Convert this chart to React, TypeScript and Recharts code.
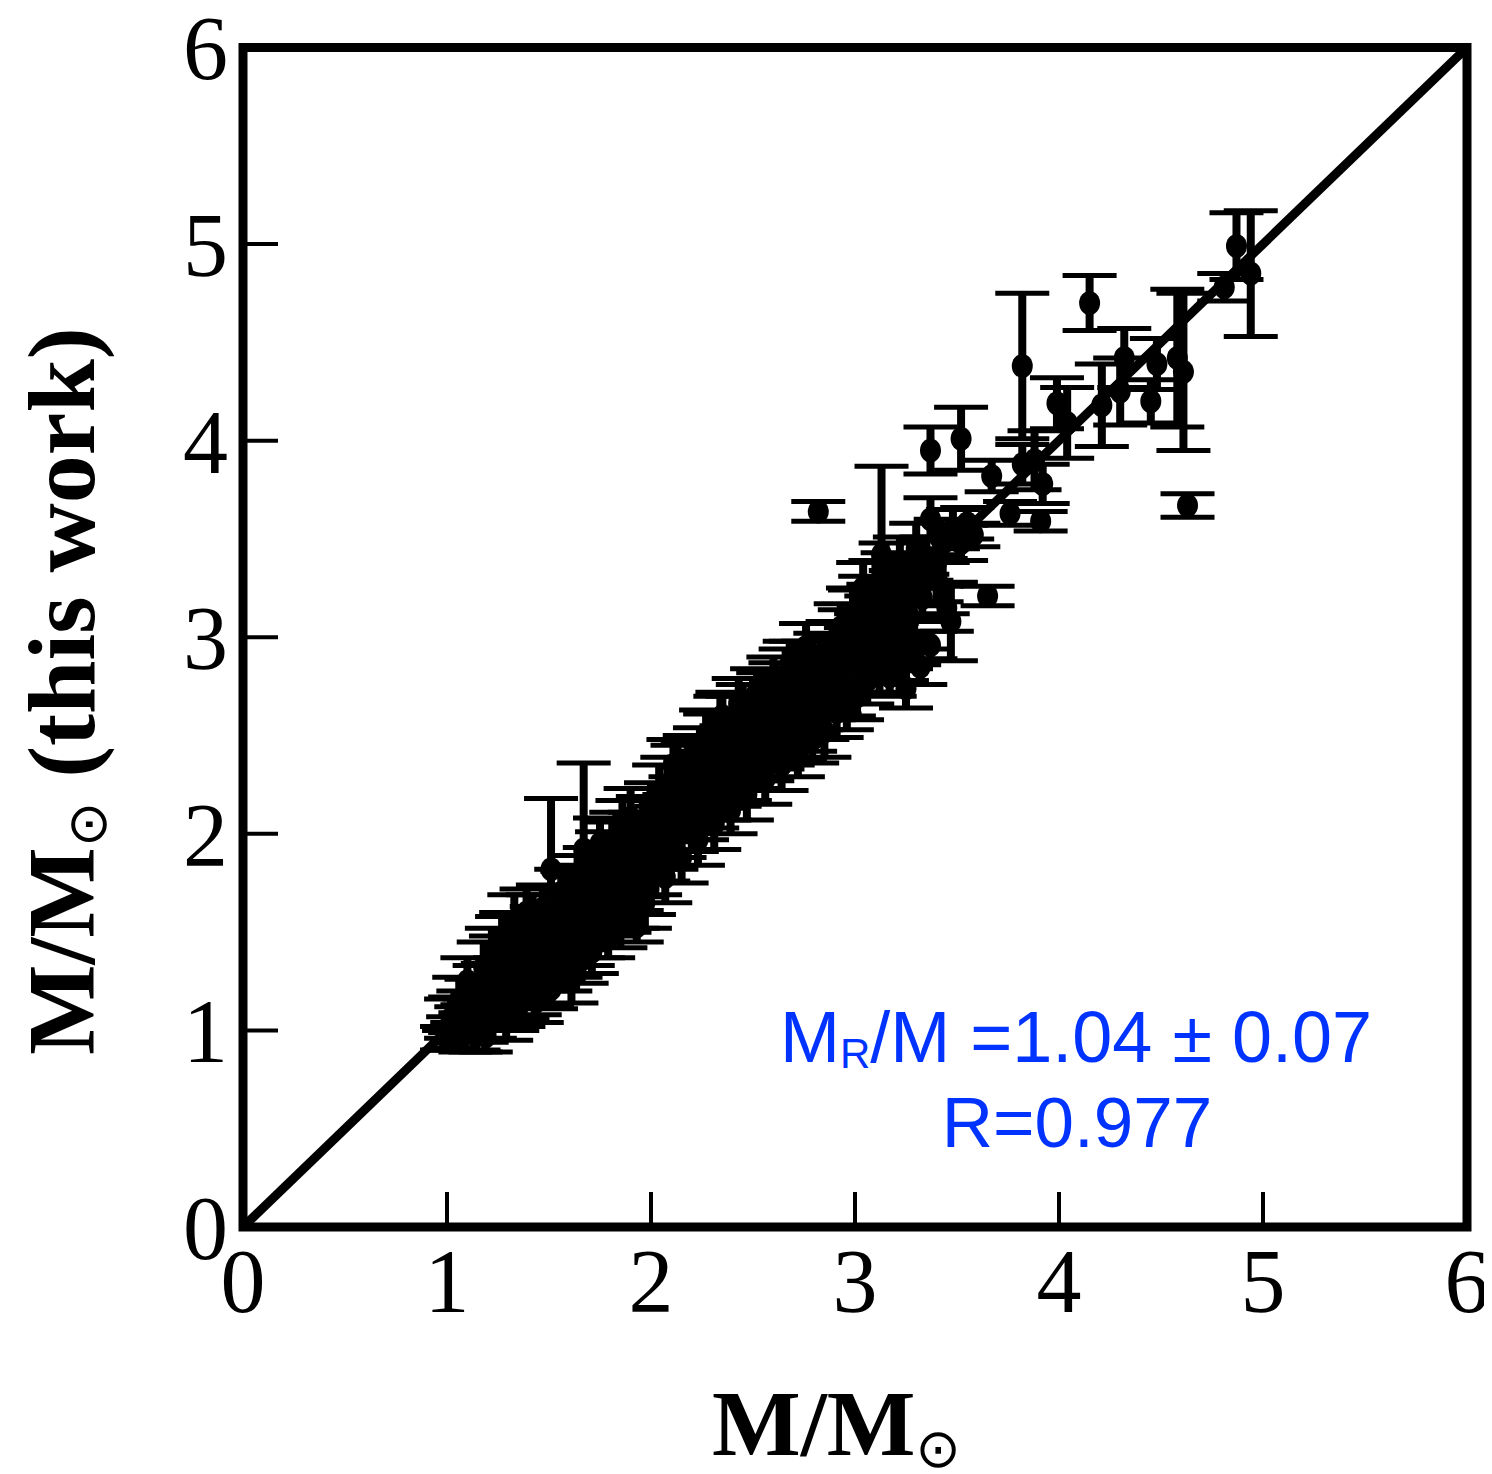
import React from "react";
import {
  ScatterChart,
  Scatter,
  XAxis,
  YAxis,
  ErrorBar,
  ReferenceLine,
  ReferenceArea,
} from "recharts";

// [M/Msun (literature), M/Msun (this work), error]
type Row = [number, number, number];

const xTicks = [0, 1, 2, 3, 4, 5, 6];
const yTicks = [0, 1, 2, 3, 4, 5, 6];

const lowGroup: Row[] = [
  [1.0, 0.96, 0.06], [1.01, 0.95, 0.05], [1.03, 0.99, 0.08], [1.04, 1.08, 0.09],
  [1.05, 0.97, 0.07], [1.07, 1.04, 0.08], [1.08, 1.12, 0.08], [1.09, 0.99, 0.1],
  [1.11, 1.07, 0.09], [1.12, 1.17, 0.09], [1.13, 1.01, 0.11], [1.15, 1.1, 0.08],
  [1.16, 1.22, 0.11], [1.17, 1.04, 0.1], [1.19, 1.14, 0.09], [1.2, 1.24, 0.1],
  [1.21, 1.08, 0.12], [1.22, 1.4, 0.12], [1.23, 1.19, 0.09], [1.25, 1.12, 0.11],
  [1.26, 1.27, 0.1], [1.27, 1.45, 0.13], [1.28, 1.15, 0.1], [1.3, 1.33, 0.11],
  [1.31, 1.21, 0.09], [1.32, 1.1, 0.1], [1.33, 1.55, 0.14], [1.34, 1.28, 0.1],
  [1.36, 1.38, 0.12], [1.37, 1.17, 0.11], [1.38, 1.47, 0.12], [1.4, 1.25, 0.1],
  [1.41, 1.34, 0.11], [1.42, 1.56, 0.13], [1.43, 1.2, 0.12], [1.45, 1.42, 0.11],
  [1.46, 1.3, 0.1], [1.47, 1.62, 0.12], [1.48, 1.37, 0.11], [1.49, 1.25, 0.13],
  [1.5, 1.5, 0.12],
];

const midLowGroup: Row[] = [
  [1.52, 1.33, 0.11], [1.53, 1.45, 0.12], [1.54, 1.6, 0.13], [1.55, 1.38, 0.1],
  [1.57, 1.52, 0.12], [1.58, 1.32, 0.12], [1.59, 1.68, 0.13], [1.6, 1.47, 0.11],
  [1.62, 1.58, 0.12], [1.63, 1.4, 0.13], [1.64, 1.75, 0.14], [1.65, 1.52, 0.11],
  [1.68, 1.63, 0.12], [1.69, 1.45, 0.12], [1.7, 1.8, 0.13], [1.72, 1.57, 0.11],
  [1.73, 1.7, 0.12], [1.74, 1.5, 0.13], [1.76, 1.87, 0.14], [1.77, 1.62, 0.12],
  [1.78, 1.75, 0.11], [1.8, 1.55, 0.07], [1.81, 1.93, 0.13], [1.82, 1.68, 0.12],
  [1.84, 1.82, 0.12], [1.85, 1.56, 0.14], [1.86, 2.02, 0.15], [1.88, 1.74, 0.12],
  [1.89, 1.88, 0.11], [1.9, 2.08, 0.15], [1.91, 1.65, 0.13], [1.93, 1.53, 0.08],
  [1.94, 1.8, 0.12], [1.96, 2.05, 0.14], [1.98, 1.88, 0.12], [1.99, 1.72, 0.13],
];

const midGroup: Row[] = [
  [2.0, 2.12, 0.14], [2.01, 1.94, 0.12], [2.02, 1.82, 0.13], [2.04, 2.2, 0.15],
  [2.05, 2.02, 0.12], [2.06, 1.88, 0.12], [2.08, 2.25, 0.14], [2.09, 2.08, 0.12],
  [2.1, 1.95, 0.13], [2.12, 2.16, 0.13], [2.13, 2.3, 0.15], [2.14, 2.0, 0.12],
  [2.16, 2.22, 0.12], [2.17, 2.1, 0.13], [2.18, 2.34, 0.13], [2.2, 2.05, 0.14],
  [2.21, 2.27, 0.12], [2.22, 2.15, 0.12], [2.24, 2.4, 0.14], [2.25, 2.1, 0.13],
  [2.26, 2.3, 0.12], [2.28, 2.22, 0.13], [2.29, 2.47, 0.14], [2.3, 2.15, 0.12],
  [2.32, 2.35, 0.13], [2.33, 2.25, 0.12], [2.34, 2.55, 0.15], [2.36, 2.2, 0.13],
  [2.37, 2.42, 0.13], [2.38, 2.32, 0.12], [2.4, 2.58, 0.12], [2.41, 2.28, 0.14],
  [2.42, 2.45, 0.12], [2.44, 2.37, 0.12], [2.45, 2.62, 0.14], [2.46, 2.3, 0.13],
  [2.48, 2.5, 0.12], [2.49, 2.4, 0.13],
];

const upperMidGroup: Row[] = [
  [2.5, 2.65, 0.14], [2.51, 2.35, 0.12], [2.53, 2.55, 0.13], [2.54, 2.45, 0.12],
  [2.55, 2.7, 0.12], [2.57, 2.4, 0.13], [2.58, 2.6, 0.12], [2.59, 2.5, 0.14],
  [2.61, 2.74, 0.13], [2.62, 2.45, 0.12], [2.63, 2.62, 0.13], [2.65, 2.54, 0.12],
  [2.66, 2.8, 0.14], [2.67, 2.48, 0.13], [2.69, 2.68, 0.12], [2.7, 2.58, 0.13],
  [2.71, 2.85, 0.13], [2.73, 2.52, 0.14], [2.74, 2.72, 0.12], [2.75, 2.62, 0.12],
  [2.77, 2.86, 0.12], [2.78, 2.55, 0.13], [2.8, 2.76, 0.12], [2.81, 2.66, 0.13],
  [2.83, 2.9, 0.12], [2.84, 2.6, 0.12], [2.86, 2.82, 0.13], [2.87, 2.7, 0.12],
  [2.89, 2.96, 0.12], [2.9, 2.75, 0.14], [2.92, 2.88, 0.12], [2.94, 2.8, 0.13],
  [2.95, 3.02, 0.12], [2.97, 2.72, 0.12], [2.98, 2.93, 0.12],
];

const highGroup: Row[] = [
  [3.0, 3.1, 0.14], [3.02, 2.85, 0.13], [3.03, 3.0, 0.12], [3.05, 3.18, 0.13],
  [3.07, 2.92, 0.12], [3.08, 3.08, 0.13], [3.1, 3.25, 0.14], [3.11, 2.98, 0.12],
  [3.14, 3.15, 0.12], [3.16, 3.3, 0.13], [3.17, 2.8, 0.1], [3.19, 3.05, 0.12],
  [3.2, 3.22, 0.12], [3.22, 3.38, 0.13], [3.23, 2.9, 0.12], [3.25, 2.74, 0.1],
  [3.26, 3.12, 0.13], [3.28, 3.3, 0.12], [3.3, 3.45, 0.13], [3.32, 2.85, 0.09],
  [3.33, 3.2, 0.12], [3.35, 3.4, 0.11], [3.37, 2.96, 0.07], [3.37, 3.6, 0.11],
  [3.4, 3.3, 0.12], [3.42, 3.5, 0.1], [3.45, 3.15, 0.12], [3.47, 3.08, 0.2],
  [3.48, 3.55, 0.1], [3.52, 3.48, 0.09], [3.55, 3.58, 0.08], [3.58, 3.52, 0.06],
];

const fillGroup: Row[] = [
  [1.02, 1.06, 0.1], [1.06, 1.15, 0.12], [1.1, 1.25, 0.12], [1.14, 0.98, 0.09],
  [1.18, 1.32, 0.13], [1.19, 0.97, 0.08], [1.24, 1.36, 0.12], [1.29, 1.05, 0.1],
  [1.29, 1.48, 0.12], [1.35, 1.12, 0.1], [1.39, 1.6, 0.12], [1.44, 1.15, 0.11],
  [1.44, 1.5, 0.13], [1.51, 1.21, 0.1], [1.56, 1.7, 0.12], [1.61, 1.26, 0.12],
  [1.66, 1.36, 0.12], [1.67, 1.72, 0.12], [1.71, 1.4, 0.11], [1.75, 1.95, 0.13],
  [1.79, 1.47, 0.1], [1.83, 1.98, 0.13], [1.87, 1.62, 0.12], [1.92, 1.98, 0.13],
  [1.97, 1.65, 0.13], [2.03, 2.08, 0.15], [2.07, 1.78, 0.13], [2.11, 2.35, 0.13],
  [2.15, 1.88, 0.13], [2.19, 2.38, 0.12], [2.23, 1.97, 0.13], [2.27, 2.5, 0.13],
  [2.31, 2.05, 0.13], [2.35, 2.6, 0.12], [2.39, 2.12, 0.12], [2.43, 2.66, 0.13],
  [2.47, 2.2, 0.13], [2.52, 2.72, 0.12], [2.56, 2.28, 0.13], [2.6, 2.78, 0.12],
  [2.64, 2.35, 0.13], [2.68, 2.86, 0.12], [2.72, 2.42, 0.13], [2.76, 2.95, 0.12],
  [2.79, 2.48, 0.12], [2.82, 2.78, 0.14], [2.85, 2.52, 0.13], [2.88, 2.88, 0.13],
  [2.91, 2.62, 0.13], [2.93, 3.05, 0.12], [2.96, 2.65, 0.12], [2.99, 3.12, 0.13],
  [3.01, 2.7, 0.12], [3.04, 3.25, 0.13], [3.06, 2.78, 0.12], [3.09, 3.15, 0.12],
  [3.12, 2.85, 0.13], [3.15, 3.35, 0.13], [3.18, 2.95, 0.12], [3.21, 3.12, 0.12],
  [3.24, 3.05, 0.13], [3.27, 3.22, 0.12], [3.29, 2.98, 0.12], [3.34, 3.28, 0.12],
  [3.4, 3.38, 0.12], [3.43, 3.25, 0.13],
];

const sparseGroup: Row[] = [
  [1.51, 1.82, 0.36], [1.67, 1.92, 0.44], [2.82, 3.64, 0.05], [3.13, 3.42, 0.45],
  [3.37, 3.95, 0.12], [3.52, 4.01, 0.16], [3.65, 3.21, 0.05], [3.67, 3.82, 0.08],
  [3.76, 3.63, 0.06], [3.82, 4.38, 0.37], [3.82, 3.88, 0.1], [3.88, 3.9, 0.15],
  [3.91, 3.59, 0.05], [3.92, 3.78, 0.1], [3.99, 4.19, 0.13], [4.04, 4.09, 0.18],
  [4.15, 4.7, 0.14], [4.21, 4.18, 0.21], [4.3, 4.25, 0.17], [4.32, 4.42, 0.15],
  [4.45, 4.2, 0.11], [4.48, 4.39, 0.13], [4.58, 4.42, 0.35], [4.61, 4.35, 0.4],
  [4.63, 3.67, 0.06], [4.81, 4.78, 0.07], [4.87, 4.99, 0.17], [4.94, 4.85, 0.32],
];

const points = [
  ...lowGroup,
  ...midLowGroup,
  ...midGroup,
  ...upperMidGroup,
  ...highGroup,
  ...fillGroup,
  ...sparseGroup,
].map(([x, y, err]) => ({ x, y, err }));

const Dot = (props: any) => (
  <ellipse cx={props.cx} cy={props.cy} rx={10.5} ry={12} fill="#000" />
);

const tickLine = { stroke: "#000", strokeWidth: 4 };
const tickFont = { fontSize: 90, fontFamily: "Liberation Serif", fill: "#000" };
const blue = "#0033ff";

export default function App() {
  return (
    <div style={{ position: "relative", width: 1476, height: 1466 }}>
      <ScatterChart
        width={1476}
        height={1466}
        margin={{ top: 29.5, right: 7, bottom: 187, left: 155 }}
      >
        <XAxis
          xAxisId="b"
          type="number"
          dataKey="x"
          domain={[0, 6]}
          ticks={xTicks}
          interval={0}
          height={60}
          tickSize={-35}
          tickMargin={56}
          axisLine={false}
          tickLine={tickLine}
          tick={tickFont}
        />
        <XAxis
          xAxisId="t"
          orientation="top"
          type="number"
          dataKey="x"
          domain={[0, 6]}
          ticks={xTicks}
          interval={0}
          height={10}
          tickSize={-35}
          axisLine={false}
          tickLine={tickLine}
          tick={false}
        />
        <YAxis
          yAxisId="l"
          type="number"
          dataKey="y"
          domain={[0, 6]}
          ticks={yTicks}
          interval={0}
          width={80}
          tickSize={-35}
          tickMargin={50}
          axisLine={false}
          tickLine={tickLine}
          tick={tickFont}
        />
        <YAxis
          yAxisId="r"
          orientation="right"
          type="number"
          dataKey="y"
          domain={[0, 6]}
          ticks={yTicks}
          interval={0}
          width={10}
          tickSize={-35}
          axisLine={false}
          tickLine={tickLine}
          tick={false}
        />
        <Scatter
          xAxisId="b"
          yAxisId="l"
          data={points}
          shape={Dot}
          isAnimationActive={false}
        >
          <ErrorBar dataKey="err" direction="y" width={0} strokeWidth={8} stroke="#000" />
          <ErrorBar dataKey="err" direction="y" width={27} strokeWidth={5} stroke="#000" />
        </Scatter>
        <ReferenceLine
          xAxisId="b"
          yAxisId="l"
          segment={[{ x: 0, y: 0 }, { x: 6, y: 6 }]}
          stroke="#000"
          strokeWidth={9}
        />
        <ReferenceArea
          xAxisId="b"
          yAxisId="l"
          x1={0}
          x2={6}
          y1={0}
          y2={6}
          fill="none"
          fillOpacity={0}
          stroke="#000"
          strokeWidth={9}
          strokeOpacity={1}
        />
      </ScatterChart>
      <svg
        width={1476}
        height={1466}
        style={{ position: "absolute", left: 0, top: 0, pointerEvents: "none" }}
      >
        <text
          x={704}
          y={1447}
          fontFamily="Liberation Serif"
          fontWeight="bold"
          fontSize={94}
          fill="#000"
        >
          M/M
          <tspan fontFamily="DejaVu Sans" fontWeight="normal" fontSize={54} dy={12}>
            ⊙
          </tspan>
        </text>
        <text
          transform="translate(86,1047) rotate(-90)"
          fontFamily="Liberation Serif"
          fontWeight="bold"
          fontSize={96}
          fill="#000"
        >
          M/M
          <tspan fontFamily="DejaVu Sans" fontWeight="normal" fontSize={54} dy={12}>
            ⊙
          </tspan>
          <tspan dy={-12}> (this work)</tspan>
        </text>
        <text
          x={1068}
          y={1054}
          textAnchor="middle"
          fontFamily="Liberation Sans"
          fontSize={72}
          fill={blue}
        >
          M
          <tspan fontSize={42} dy={6}>R</tspan>
          <tspan dy={-6}>/M =1.04 ± 0.07</tspan>
        </text>
        <text
          x={1069}
          y={1139}
          textAnchor="middle"
          fontFamily="Liberation Sans"
          fontSize={71}
          fill={blue}
        >
          R=0.977
        </text>
      </svg>
    </div>
  );
}
